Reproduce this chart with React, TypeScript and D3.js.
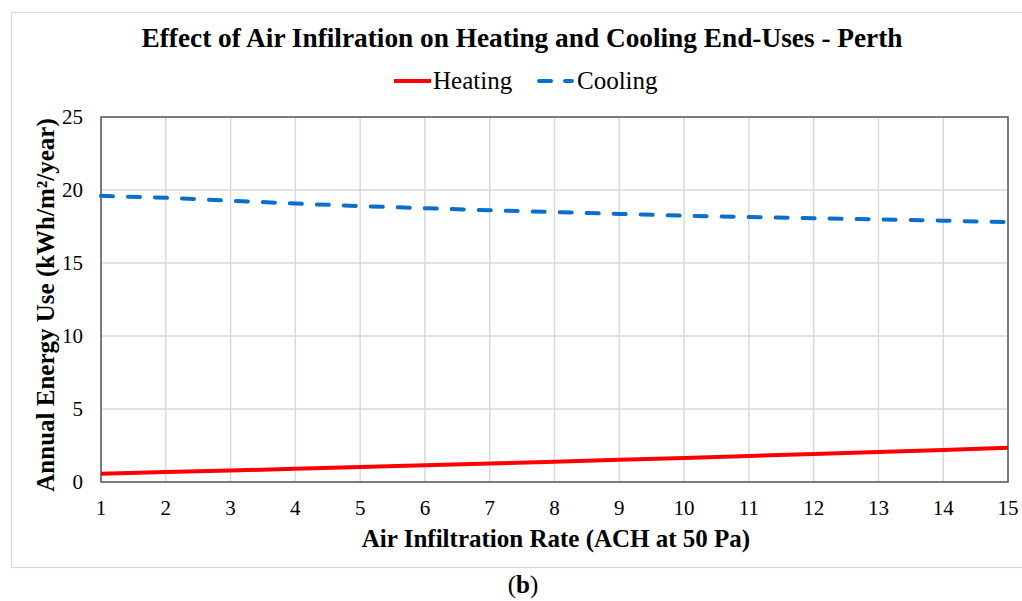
import React from "react";
import * as d3 from "d3";

const rates = [1, 2, 3, 4, 5, 6, 7, 8, 9, 10, 11, 12, 13, 14, 15];
const heating = [0.57, 0.68, 0.79, 0.9, 1.02, 1.14, 1.27, 1.39, 1.52, 1.65, 1.78, 1.92, 2.05, 2.2, 2.35];
const cooling = [19.6, 19.47, 19.27, 19.07, 18.9, 18.75, 18.61, 18.49, 18.36, 18.24, 18.15, 18.06, 17.98, 17.9, 17.8];
const yTicks = [0, 5, 10, 15, 20, 25];

const W = 1022;
const H = 601;
const margin = { left: 101, right: 1008, top: 117, bottom: 482 };
const font = "Liberation Serif";

const App = () => {
  const x = d3.scaleLinear().domain([1, 15]).range([margin.left, margin.right]);
  const y = d3.scaleLinear().domain([0, 25]).range([margin.bottom, margin.top]);

  const line = d3
    .line<[number, number]>()
    .x((d) => x(d[0]))
    .y((d) => y(d[1]));

  const heatPath = line(rates.map((r, i) => [r, heating[i]]));
  const coolPath = line(rates.map((r, i) => [r, cooling[i]]));

  return (
    <svg
      width={W}
      height={H}
      style={{ position: "absolute", left: 0, top: 0, background: "#fff", fontFamily: font }}
    >
      {/* outer chart frame */}
      <rect x={11.5} y={12.5} width={1012} height={555} fill="none" stroke="#d9d9d9" strokeWidth={1.2} />

      {/* title */}
      <text
        x={522}
        y={47}
        textAnchor="middle"
        fontSize={27}
        fontWeight="bold"
        fill="#000"
        textLength={761}
        lengthAdjust="spacingAndGlyphs"
      >
        Effect of Air Infilration on Heating and Cooling End-Uses - Perth
      </text>

      {/* legend */}
      <line x1={394} x2={431} y1={81} y2={81} stroke="#ff0000" strokeWidth={4} />
      <text x={433} y={89} fontSize={25} fill="#000">Heating</text>
      <line
        x1={539}
        x2={572}
        y1={81}
        y2={81}
        stroke="#0a6fcc"
        strokeWidth={4}
        strokeDasharray="12 14"
        strokeLinecap="round"
      />
      <text x={577} y={89} fontSize={25} fill="#000">Cooling</text>

      {/* gridlines */}
      {rates.map((r) => (
        <line key={"vx" + r} x1={x(r)} x2={x(r)} y1={margin.top} y2={margin.bottom} stroke="#d9d9d9" strokeWidth={1.5} />
      ))}
      {yTicks.map((t) => (
        <line key={"hy" + t} x1={margin.left} x2={margin.right} y1={y(t)} y2={y(t)} stroke="#d9d9d9" strokeWidth={1.5} />
      ))}

      {/* plot border */}
      <rect
        x={margin.left}
        y={margin.top}
        width={margin.right - margin.left}
        height={margin.bottom - margin.top}
        fill="none"
        stroke="#595959"
        strokeWidth={1.5}
      />

      {/* series */}
      <path d={heatPath ?? ""} fill="none" stroke="#ff0000" strokeWidth={4} />
      <path d={coolPath ?? ""} fill="none" stroke="#0a6fcc" strokeWidth={4} strokeDasharray="12 15" strokeLinecap="round" />

      {/* y tick labels */}
      {yTicks.map((t) => (
        <text key={"yl" + t} x={83} y={y(t) + 7} textAnchor="end" fontSize={21} fill="#000">
          {t}
        </text>
      ))}

      {/* x tick labels */}
      {rates.map((r) => (
        <text key={"xl" + r} x={x(r)} y={515} textAnchor="middle" fontSize={21} fill="#000">
          {r}
        </text>
      ))}

      {/* axis titles */}
      <text x={556} y={547} textAnchor="middle" fontSize={25} fontWeight="bold" fill="#000">
        Air Infiltration Rate (ACH at 50 Pa)
      </text>
      <text
        transform={`translate(54, 305) rotate(-90)`}
        textAnchor="middle"
        fontSize={25}
        fontWeight="bold"
        fill="#000"
      >
        Annual Energy Use (kWh/m²/year)
      </text>

      {/* caption */}
      <text x={523} y={593} textAnchor="middle" fontSize={25} fill="#000">
        (<tspan fontWeight="bold">b</tspan>)
      </text>
    </svg>
  );
};

export default App;
